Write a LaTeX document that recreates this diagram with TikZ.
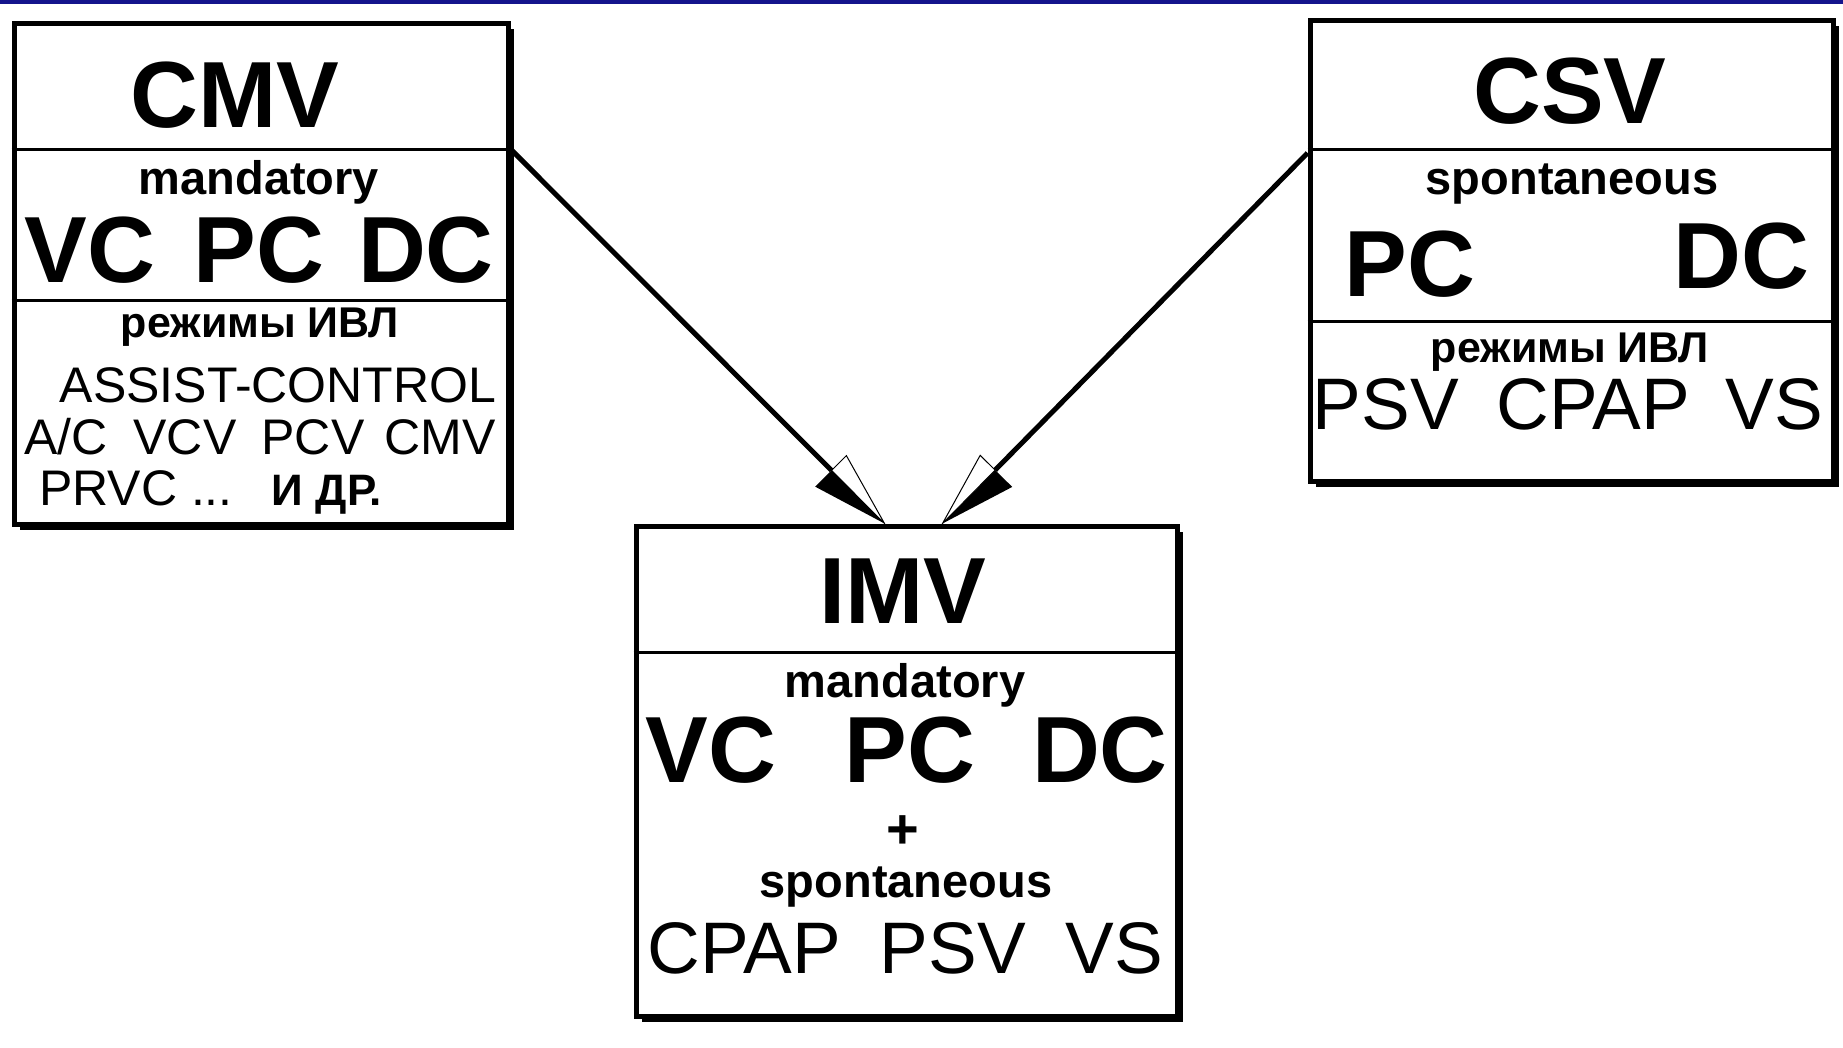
\documentclass[tikz,border=0pt]{standalone}
\usepackage{fontspec}
\setmainfont{Liberation Sans}
\usetikzlibrary{calc,shadows}
\definecolor{topbar}{RGB}{20,20,140}
\newcommand\setfs[1]{\fontsize{#1}{#1}\selectfont}
\begin{document}
\begin{tikzpicture}[x=1pt,y=-1pt,
  box/.style={draw, fill=white, line width=5pt, rectangle, inner sep=0pt,
    drop shadow={shadow xshift=6pt, shadow yshift=-6pt, fill=black, opacity=1}},
  divider/.style={line width=3pt},
  txt/.style={inner sep=0pt, anchor=base},
  shaft/.style={line width=5pt},
  title/.style={txt, font=\bfseries\setfs{94}},
  big/.style={txt, font=\bfseries\setfs{94}},
  sub/.style={txt, font=\bfseries\setfs{47}},
  rus/.style={txt, font=\bfseries\setfs{43}},
  mode/.style={txt, font=\setfs{50}},
  modebig/.style={txt, font=\setfs{73}}]
\useasboundingbox (0,0) rectangle (1843,1047);
\fill[topbar] (0,0) rectangle (1843,3.5);

% boxes
\node[box, anchor=north west, minimum width=494pt, minimum height=501pt] (cmv) at (11.5,20.5) {};
\node[box, anchor=north west, minimum width=523pt, minimum height=461pt] (csv) at (1307.5,17.5) {};
\node[box, anchor=north west, minimum width=541pt, minimum height=490pt] (imv) at (633.5,523.5) {};

\coordinate (ya) at (0,149);
\coordinate (yb) at (0,300);
\coordinate (yc) at (0,321);
\coordinate (yd) at (0,652);
\draw[divider] (cmv.west |- ya) -- (cmv.east |- ya);
\draw[divider] (cmv.west |- yb) -- (cmv.east |- yb);
\draw[divider] (csv.west |- ya) -- (csv.east |- ya);
\draw[divider] (csv.west |- yc) -- (csv.east |- yc);
\draw[divider] (imv.west |- yd) -- (imv.east |- yd);

% CMV texts
\node[title] (cmvt) at (235,127) {CMV};
\node[sub] (cmvm) at (259,194) {mandatory};
\node[big] (cmvvc) at (90,282) {VC};
\node[big] (cmvpc) at (259,282) {PC};
\node[big] (cmvdc) at (426,282) {DC};
\node[rus] (cmvr) at (260,337) {режимы ИВЛ};
\node[mode] (cmvac) at (278,402) {ASSIST-CONTROL};
\node[mode] (cmva) at (66,454) {A/C};
\node[mode] (cmvb) at (185,454) {VCV};
\node[mode] (cmvc) at (313,454) {PCV};
\node[mode] (cmvd) at (440,454) {CMV};
\node[mode] (cmve) at (136,505) {PRVC ...};
\node[txt, font=\bfseries\setfs{44}] (cmvf) at (327,505) {И ДР.};

% CSV texts
\node[title] (csvt) at (1570,123) {CSV};
\node[sub] (csvs) at (1572,194) {spontaneous};
\node[big] (csvpc) at (1410,296) {PC};
\node[big] (csvdc) at (1741,288) {DC};
\node[rus] (csvr) at (1570,362) {режимы ИВЛ};
\node[modebig] (csva) at (1386,429) {PSV};
\node[modebig] (csvb) at (1593,429) {CPAP};
\node[modebig] (csvc) at (1774,429) {VS};

% IMV texts
\node[title] (imvt) at (903,623) {IMV};
\node[sub] (imvm) at (905,697) {mandatory};
\node[big] (imvvc) at (711,782) {VC};
\node[big] (imvpc) at (910,782) {PC};
\node[big] (imvdc) at (1100,782) {DC};
\node[inner sep=0pt, font=\bfseries\setfs{56}] (imvplus) at (903,832) {+};
\node[sub] (imvs) at (906,897) {spontaneous};
\node[modebig] (imva) at (744,973) {CPAP};
\node[modebig] (imvb) at (953,973) {PSV};
\node[modebig] (imvc) at (1114,973) {VS};

% connectors
\coordinate (s1) at (cmv.east |- ya);
\coordinate (s2) at (csv.west |- 0,153);
\coordinate (t1) at ($(imv.north)+(-22,0)$);
\coordinate (t2) at ($(imv.north)+(36,0)$);
\coordinate (b1) at ($(t1)!75pt!(s1)$);
\coordinate (b2) at ($(t2)!75pt!(s2)$);
\draw[shaft] (s1) -- (b1);
\draw[shaft] (s2) -- (b2);
\fill[black] (t1) -- (b1) -- ($(b1)!23pt!-90:(t1)$) -- cycle;
\draw[fill=white, line width=1pt, line join=miter] (t1) -- (b1) -- ($(b1)!21pt!90:(t1)$) -- cycle;
\fill[black] (t2) -- (b2) -- ($(b2)!24pt!90:(t2)$) -- cycle;
\draw[fill=white, line width=1pt, line join=miter] (t2) -- (b2) -- ($(b2)!21pt!-90:(t2)$) -- cycle;
\end{tikzpicture}
\end{document}
